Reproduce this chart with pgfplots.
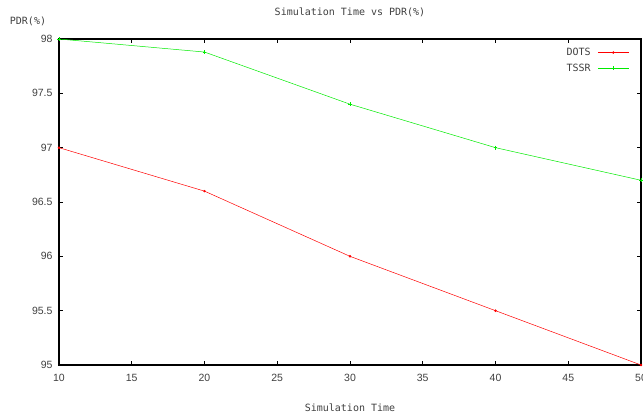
\documentclass[border=0pt]{standalone}
\usepackage{fontspec}
\setmainfont{Liberation Sans}
\newfontfamily\gmono{DejaVu Sans Mono}
\usepackage{pgfplots}
\pgfplotsset{compat=1.18}
\definecolor{dred}{RGB}{255,0,0}
\definecolor{dgreen}{RGB}{0,235,0}
\begin{document}
\begin{tikzpicture}
\begin{axis}[
  scale only axis,
  width=582bp, height=326bp,
  xmin=10, xmax=50, ymin=95, ymax=98,
  xtick={10,15,...,50},
  ytick={95,95.5,...,98},
  yticklabel style={xshift=-3bp, /pgf/number format/.cd, fixed, precision=1},
  /pgf/number format/assume math mode=true,
  tick label style={font=\fontsize{10.5bp}{12bp}\selectfont, text=black!75},
  xticklabel style={yshift=-6bp},
  tick align=inside,
  major tick length=4bp,
  axis line style={line width=1.2pt},
  every tick/.style={black, line width=1pt},
  legend style={draw=none, fill=none, at={(0.985,0.985)}, anchor=north east,
    font=\gmono\fontsize{10bp}{12bp}\selectfont, text=black!75, row sep=3bp,
    /tikz/every odd column/.append style={column sep=5bp}},
  legend cell align=right,
  legend plot pos=right,
  legend image code/.code={\draw[mark repeat=2,mark phase=2] plot coordinates {(0bp,0bp) (15.5bp,0bp) (31bp,0bp)};},
  clip=false,
]
\addplot[dred, line width=0.5pt, mark=*, mark size=1pt] coordinates {
(10,97) (20,96.6) (30,96) (40,95.5) (50,95)};
\addlegendentry{DOTS}
\addplot[dgreen, line width=0.5pt, mark=+, mark size=2pt] coordinates {
(10,98) (20,97.88) (30,97.4) (40,97) (50,96.7)};
\addlegendentry{TSSR}
\end{axis}
\node[font=\gmono\fontsize{10bp}{12bp}\selectfont, text=black!75] at ([yshift=27bp]current axis.north) {Simulation Time vs PDR(\%)};
\node[font=\gmono\fontsize{10bp}{12bp}\selectfont, text=black!75] at ([xshift=-31bp,yshift=18bp]current axis.north west) {PDR(\%)};
\node[font=\gmono\fontsize{10bp}{12bp}\selectfont, text=black!75] at ([yshift=-43bp]current axis.south) {Simulation Time};
\pgfresetboundingbox
\path ([xshift=-59bp,yshift=-53bp]current axis.south west) rectangle ++(643bp,418bp);
\end{tikzpicture}
\end{document}
